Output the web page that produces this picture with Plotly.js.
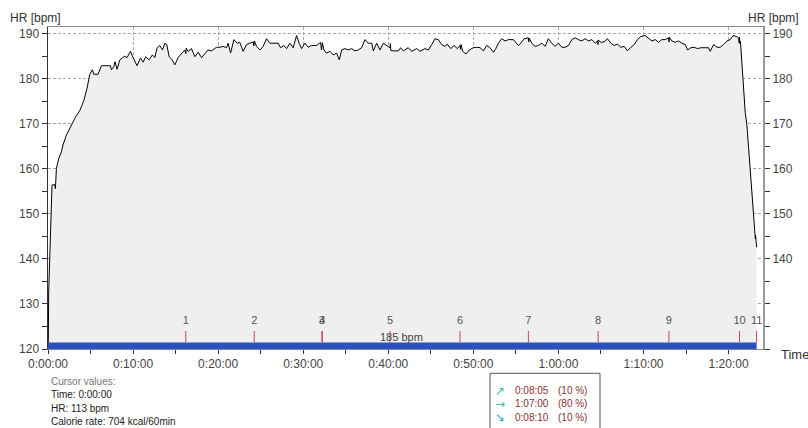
<!DOCTYPE html>
<html>
<head>
<meta charset="utf-8">
<script src="https://cdn.plot.ly/plotly-3.0.1.min.js"></script>
<style>
  html, body { margin: 0; padding: 0; background: #ffffff; }
  #chart { width: 808px; height: 428px; }
</style>
</head>
<body>
<div id="chart"></div>
<script>
// ---- data (time in minutes from start, heart rate in bpm) ----
const timeMin = [
  0, 0.08, 0.2, 0.32, 0.47, 0.79, 0.87, 0.99, 1.26, 1.58, 1.76, 2.16, 2.75, 3.26, 3.73, 4.2, 4.59, 4.91,
  5.22, 5.38, 5.88, 6.08, 6.28, 7.34, 7.46, 7.73, 7.88, 8.12, 8.44, 8.75, 9.02, 9.29, 9.69, 10.0,
  10.47, 10.87, 11.18, 11.49, 11.88, 12.28, 12.55, 12.82, 13.14, 13.46, 13.73, 13.96, 14.24, 14.52,
  14.91, 15.29, 15.69, 16.08, 16.2, 16.25, 16.47, 16.87, 17.26, 17.65, 18.05, 18.44, 18.82, 19.22,
  19.81, 20.2, 20.59, 20.99, 21.18, 21.46, 21.85, 22.24, 22.55, 22.94, 23.34, 23.73, 24.12, 24.2,
  24.26, 24.52, 24.91, 25.29, 25.69, 26.08, 26.67, 27.06, 27.34, 27.73, 28.05, 28.44, 28.82, 29.22,
  29.53, 29.81, 30.2, 30.59, 30.99, 31.58, 32.05, 32.15, 32.25, 32.44, 32.75, 33.14, 33.53, 33.93,
  34.24, 34.52, 34.91, 35.29, 35.69, 36.08, 36.47, 36.87, 37.26, 37.65, 38.05, 38.24, 38.64, 39.02,
  39.41, 39.81, 40.2, 40.25, 40.3, 40.59, 41.18, 41.46, 41.76, 42.35, 42.75, 43.34, 43.73, 44.32,
  44.71, 45.11, 45.49, 45.88, 46.28, 46.67, 46.94, 47.34, 47.73, 48.12, 48.44, 48.5, 48.55, 48.75,
  49.14, 49.53, 50.0, 50.4, 50.79, 51.18, 51.58, 51.96, 52.35, 52.64, 52.94, 53.34, 53.73, 54.12,
  54.71, 55.29, 55.58, 55.96, 56.47, 56.52, 56.57, 56.87, 57.26, 57.65, 58.05, 58.44, 58.82, 59.22,
  59.61, 60.0, 60.4, 60.79, 61.18, 61.58, 61.96, 62.35, 62.75, 63.14, 63.53, 63.93, 64.32, 64.59,
  64.65, 64.7, 64.99, 65.38, 65.76, 66.16, 66.55, 66.94, 67.34, 67.73, 68.12, 68.52, 68.91, 69.29,
  69.69, 70.2, 70.59, 70.99, 71.38, 71.76, 72.16, 72.55, 72.94, 73.0, 73.05, 73.34, 73.73, 74.12,
  74.52, 74.91, 75.18, 75.58, 75.96, 76.35, 76.75, 77.26, 77.65, 77.85, 78.24, 78.64, 79.02, 79.41,
  79.81, 80.2, 80.52, 80.91, 81.18, 81.25, 81.29, 81.33, 81.4, 81.58, 81.76, 81.96, 82.16, 82.44,
  82.75, 83.06, 83.15, 83.18, 83.22, 83.26, 83.3
];
const hrBpm = [
  113, 132.6, 140.0, 149.7, 156.4, 156.5, 155.6, 160.1, 162.3, 163.8, 165.3, 167.5, 169.9, 171.6, 172.9, 175.1, 177.9, 181.0,
  182.0, 181.0, 181.0, 182.0, 182.9, 182.9, 182.0, 182.7, 183.8, 182.1, 184.2, 184.7, 185.0, 184.7, 186.1, 184.7,
  182.9, 184.6, 183.7, 184.9, 184.2, 185.3, 184.7, 186.8, 187.4, 186.4, 187.9, 187.6, 184.9, 184.4,
  183.1, 184.7, 185.5, 186.4, 185.6, 186.8, 186.1, 186.7, 184.9, 185.9, 184.7, 185.5, 186.4, 186.2,
  187.0, 187.0, 187.2, 186.9, 187.9, 185.7, 188.7, 187.9, 188.1, 186.1, 187.6, 187.9, 188.2, 187.3,
  188.4, 187.2, 186.4, 187.2, 188.9, 187.9, 187.9, 187.9, 186.9, 187.4, 186.7, 187.9, 186.9, 189.6,
  187.9, 186.7, 187.9, 187.0, 187.4, 187.4, 188.1, 186.4, 188.0, 186.4, 185.7, 186.1, 185.3, 185.7,
  184.2, 186.4, 186.7, 186.4, 186.7, 186.2, 186.4, 186.9, 188.7, 187.9, 187.9, 186.2, 187.9, 186.4,
  187.9, 187.4, 186.9, 187.8, 186.3, 186.2, 186.2, 186.9, 186.2, 186.9, 186.1, 186.7, 186.1, 186.7,
  186.4, 187.6, 188.9, 188.7, 187.6, 187.2, 187.7, 186.7, 187.4, 186.7, 187.4, 186.5, 187.6, 186.1,
  185.5, 186.4, 186.9, 187.0, 186.9, 186.2, 187.4, 186.9, 185.9, 186.7, 187.9, 188.9, 188.4, 188.7,
  188.7, 187.4, 187.9, 188.9, 189.1, 188.2, 189.0, 187.9, 187.2, 187.4, 187.9, 187.2, 188.9, 187.9,
  187.2, 187.9, 187.0, 187.0, 187.4, 188.7, 189.1, 188.7, 188.4, 188.9, 188.4, 188.7, 187.9, 188.4,
  187.6, 188.6, 188.1, 188.2, 188.9, 187.9, 187.4, 187.7, 187.0, 187.2, 186.2, 187.0, 187.6, 188.7,
  189.4, 189.6, 188.9, 188.4, 188.7, 188.1, 188.7, 188.7, 189.1, 188.2, 189.2, 188.4, 188.1, 188.4,
  187.9, 187.6, 186.4, 186.9, 187.0, 186.7, 186.9, 186.9, 186.9, 186.1, 187.6, 187.0, 187.0, 187.6,
  188.4, 188.7, 189.6, 189.4, 189.1, 188.0, 189.2, 187.8, 188.3, 183.5, 180.1, 172.5, 169.7, 162.3,
  153.4, 147.5, 144.5, 145.3, 143.2, 144.0, 142.6
];

const lapTimes  = [16.2, 24.24, 32.2, 32.25, 40.2, 48.44, 56.47, 64.67, 72.99, 81.29, 83.3];
const lapLabels = ['1', '2', '3', '4', '5', '6', '7', '8', '9', '10', '11'];

const sessionEnd = 83.3;
const avgHRLabel = '185 bpm';

const xTickVals = [0, 10, 20, 30, 40, 50, 60, 70, 80];
const xTickText = ['0:00:00', '0:10:00', '0:20:00', '0:30:00', '0:40:00', '0:50:00', '1:00:00', '1:10:00', '1:20:00'];
const rightTickVals = [140, 150, 160, 170, 180, 190];

const cursorLines = ['Cursor values:', 'Time: 0:00:00', 'HR: 113 bpm', 'Calorie rate: 704 kcal/60min'];
const zoneArrows = ['\u2197', '\u2192', '\u2198'];
const zoneTimes  = ['0:08:05', '1:07:00', '0:08:10'];
const zonePcts   = ['(10 %)', '(80 %)', '(10 %)'];

// ---- layout helpers (pixel -> paper) ----
const L = 48, R = 45, T = 27, B = 79, W = 808, H = 428;
const PW = W - L - R, PH = H - T - B;
const px = v => (v - L) / PW;
const py = v => (H - B - v) / PH;

const FONT = 'Liberation Sans, Arial, sans-serif';

// lap tick segments
const lapX = [], lapY = [];
lapTimes.forEach(t => { lapX.push(t, t, null); lapY.push(124.0, 121.45, null); });

const traces = [
  {
    x: timeMin, y: hrBpm, type: 'scatter', mode: 'lines',
    line: {color: '#000000', width: 1},
    fill: 'tozeroy', fillcolor: '#efefef',
    hoverinfo: 'skip', showlegend: false
  },
  {
    x: lapX, y: lapY, type: 'scatter', mode: 'lines',
    line: {color: '#cc4455', width: 1},
    hoverinfo: 'skip', showlegend: false
  },
  {
    x: lapTimes, y: lapTimes.map(() => 126.1), type: 'scatter', mode: 'text',
    text: lapLabels, textposition: 'middle center',
    textfont: {family: FONT, size: 11, color: '#555555'},
    hoverinfo: 'skip', showlegend: false
  },
  {
    x: [], y: [], yaxis: 'y2', type: 'scatter', mode: 'lines',
    hoverinfo: 'skip', showlegend: false
  }
];

const annotations = [];
const ann = (text, x, y, opts) => annotations.push(Object.assign({
  text, x, y, xref: 'paper', yref: 'paper', showarrow: false,
  xanchor: 'left', yanchor: 'middle',
  font: {family: FONT, size: 12, color: '#333333'}
}, opts || {}));

ann('HR [bpm]', px(8), py(17.5));
ann('HR [bpm]', px(801), py(17.5), {xanchor: 'right'});
ann('Time', px(779), py(354), {font: {family: FONT, size: 13, color: '#333333'}});

const cursorY = [381.5, 394.3, 408.0, 421.0];
cursorLines.forEach((t, i) => ann(t, px(49), py(cursorY[i]), {
  font: {family: FONT, size: 10, color: i === 0 ? '#777777' : '#222222'}
}));

const zoneY = [390.7, 403.7, 417.2];
const arrowColors = ['#3cbf9c', '#3cbf8a', '#2aa8c8'];
zoneTimes.forEach((t, i) => {
  ann(zoneArrows[i], px(493), py(zoneY[i]), {font: {family: 'DejaVu Sans, sans-serif', size: 12, color: arrowColors[i]}});
  ann(t, px(512.5), py(zoneY[i]), {font: {family: FONT, size: 10, color: '#8b3232'}});
  ann(zonePcts[i], px(556), py(zoneY[i]), {font: {family: FONT, size: 10, color: '#8b3232'}});
});

annotations.push({
  text: avgHRLabel, x: 41.6, y: 122.75, xref: 'x', yref: 'y', showarrow: false,
  xanchor: 'center', yanchor: 'middle',
  font: {family: FONT, size: 11, color: '#444444'}
});

const tickFont = {family: FONT, size: 12, color: '#444444'};
const gridStyle = {showgrid: true, gridcolor: '#a8a8a8', gridwidth: 1, griddash: '3px,2px'};

const layout = {
  width: W, height: H,
  margin: {l: L, r: R, t: T, b: B, pad: 0},
  paper_bgcolor: '#ffffff', plot_bgcolor: '#ffffff',
  showlegend: false,
  xaxis: Object.assign({
    range: [0, 84.05], tickmode: 'array', tickvals: xTickVals, ticktext: xTickText,
    ticks: 'outside', ticklen: 4, tickcolor: '#333333', tickwidth: 1,
    minor: {tickmode: 'linear', tick0: 0, dtick: 5, ticks: 'outside', ticklen: 4, tickcolor: '#333333', showgrid: false},
    showline: true, linecolor: '#888888', linewidth: 1, mirror: true,
    zeroline: false, tickfont: tickFont, fixedrange: true
  }, gridStyle),
  yaxis: Object.assign({
    range: [120, 191.5], tickmode: 'linear', tick0: 120, dtick: 10,
    ticks: 'outside', ticklen: 5, tickcolor: '#333333', tickwidth: 1,
    minor: {tickmode: 'linear', tick0: 120, dtick: 5, ticks: 'outside', ticklen: 5, tickcolor: '#333333', showgrid: false},
    showline: true, linecolor: '#333333', linewidth: 1.5,
    zeroline: false, tickfont: tickFont, fixedrange: true
  }, gridStyle),
  yaxis2: {
    overlaying: 'y', side: 'right', anchor: 'x',
    range: [120, 191.5], tickmode: 'array', tickvals: rightTickVals,
    ticks: 'outside', ticklen: 5, tickcolor: '#333333', tickwidth: 1,
    minor: {tickmode: 'linear', tick0: 120, dtick: 5, ticks: 'outside', ticklen: 5, tickcolor: '#333333', showgrid: false},
    showline: true, linecolor: '#9a9a9a', linewidth: 2,
    showgrid: false, zeroline: false, tickfont: tickFont, fixedrange: true
  },
  shapes: [
    {type: 'rect', xref: 'x', yref: 'y', x0: 0, x1: sessionEnd, y0: 120, y1: 121.45,
     fillcolor: '#2a52be', line: {width: 0}, layer: 'above'},
    {type: 'rect', xref: 'paper', yref: 'paper', x0: px(490), x1: px(600), y0: py(373.3), y1: py(440),
     fillcolor: '#ffffff', line: {color: '#555555', width: 1}, layer: 'above'}
  ],
  annotations: annotations
};

Plotly.newPlot('chart', traces, layout, {displayModeBar: false, staticPlot: true});
</script>
</body>
</html>
